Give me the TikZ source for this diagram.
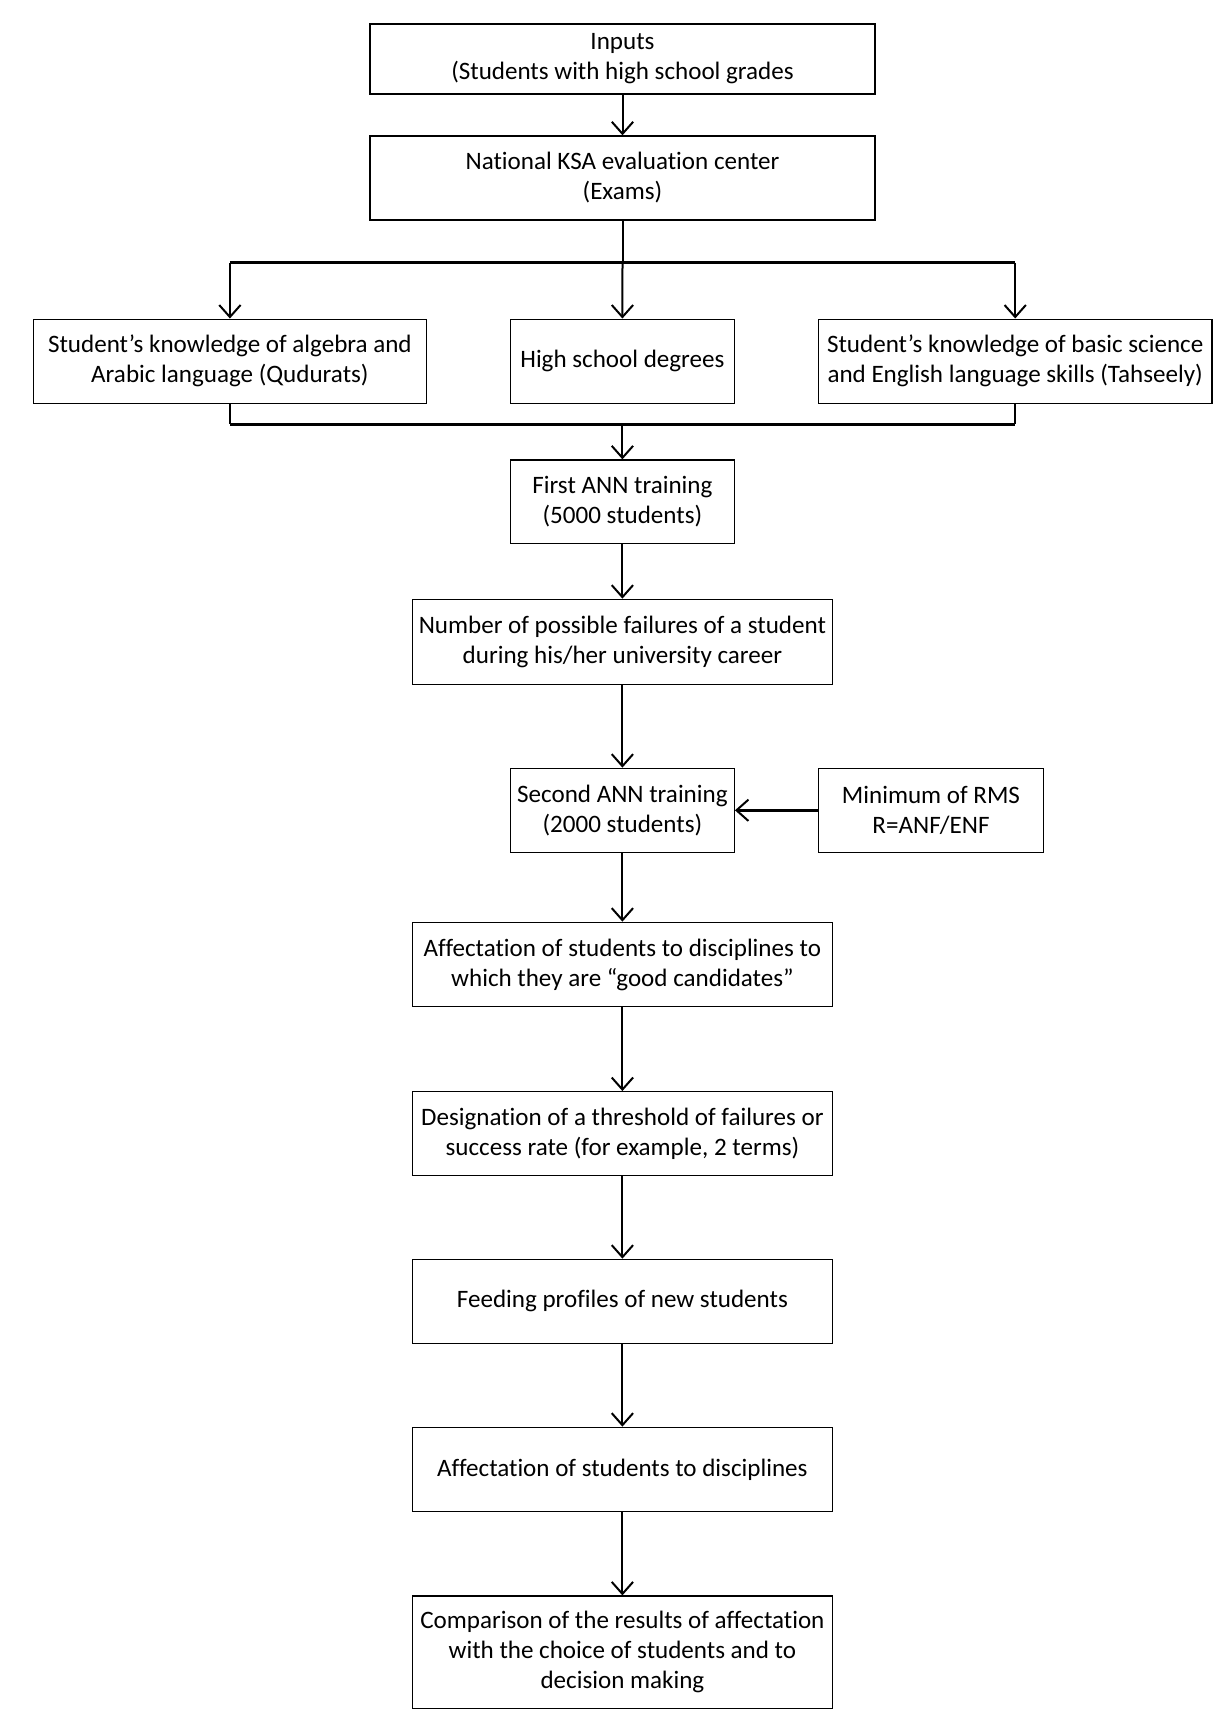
\documentclass[tikz,border=0pt]{standalone}
\usepackage{fontspec}
\setmainfont{Carlito}[Ligatures=NoCommon]
\usetikzlibrary{arrows.meta}
\tikzset{
  box/.style={draw, line width=1pt, inner sep=0pt, align=center,
    minimum height=63pt, font=\fontsize{18.8}{22.5}\selectfont},
  arr/.style={line width=1.5pt, -{Straight Barb[length=9pt,width=16pt,line width=1.5pt]}},
  bus/.style={line width=2.6pt},
  conn/.style={line width=1.5pt}
}
\begin{document}
\begin{tikzpicture}[x=0.75pt,y=-0.75pt]
\useasboundingbox (0,0) rectangle (1222,1715);
\node[box, minimum width=378.75pt, minimum height=52.5pt] (inp) at (622.5,59) {Inputs\\(Students with high school grades};
\node[box, minimum width=378.75pt] (nat) at (622.5,178) {National KSA evaluation center\\(Exams)};
\node[box, minimum width=294.6pt] (left) at (229.9,361.2) {Student’s knowledge of algebra and\\Arabic language (Qudurats)};
\node[box, minimum width=167.8pt] (mid) at (622.4,361.2) {High school degrees};
\node[box, minimum width=295.2pt] (right) at (1015.2,361.2) {Student’s knowledge of basic science\\and English language skills (Tahseely)};
\node[box, minimum width=167.8pt, minimum height=62.5pt] (first) at (622.4,501.7) {First ANN training\\(5000 students)};
\node[box, minimum width=315.1pt, minimum height=63.75pt] (num) at (622.4,641.8) {Number of possible failures of a student\\during his/her university career};
\node[box, minimum width=167.8pt] (second) at (622.4,810.3) {Second ANN training\\(2000 students)};
\node[box, minimum width=168.9pt] (min) at (931,810.3) {Minimum of RMS\\R=ANF/ENF};
\node[box, minimum width=315.1pt, minimum height=63.3pt] (aff) at (622.4,964.5) {Affectation of students to disciplines to\\which they are “good candidates”};
\node[box, minimum width=315.1pt] (des) at (622.4,1133.7) {Designation of a threshold of failures or\\success rate (for example, 2 terms)};
\node[box, minimum width=315.1pt] (feed) at (622.4,1301.3) {Feeding profiles of new students};
\node[box, minimum width=315.1pt, minimum height=63.3pt] (aff2) at (622.4,1469.5) {Affectation of students to disciplines};
\node[box, minimum width=315.1pt, minimum height=84.2pt] (cmp) at (622.4,1652.2) {Comparison of the results of affectation\\with the choice of students and to\\decision making};
% connectors
\draw[arr] (inp) -- (nat);
\coordinate (b1c) at (nat.south |- 0,262.7);
\coordinate (b1l) at (left.north |- 0,262.7);
\coordinate (b1r) at (right.north |- 0,262.7);
\draw[conn] (nat.south) -- (b1c);
\draw[bus] (b1l) -- (b1r);
\draw[arr] (b1l) -- (left.north);
\draw[arr] (b1c) -- (mid.north);
\draw[arr] (b1r) -- (right.north);
\coordinate (b2l) at (left.south |- 0,424.3);
\coordinate (b2r) at (right.south |- 0,424.3);
\coordinate (b2c) at (first.north |- 0,424.3);
\draw[conn] (left.south) -- (b2l);
\draw[conn] (right.south) -- (b2r);
\draw[bus] (b2l) -- (b2r);
\draw[arr] (b2c) -- (first.north);
\draw[arr] (first) -- (num);
\draw[arr] (num) -- (second);
\draw[arr, line width=2pt] (min) -- (second);
\draw[arr] (second) -- (aff);
\draw[arr] (aff) -- (des);
\draw[arr] (des) -- (feed);
\draw[arr] (feed) -- (aff2);
\draw[arr] (aff2) -- (cmp);
\end{tikzpicture}
\end{document}
